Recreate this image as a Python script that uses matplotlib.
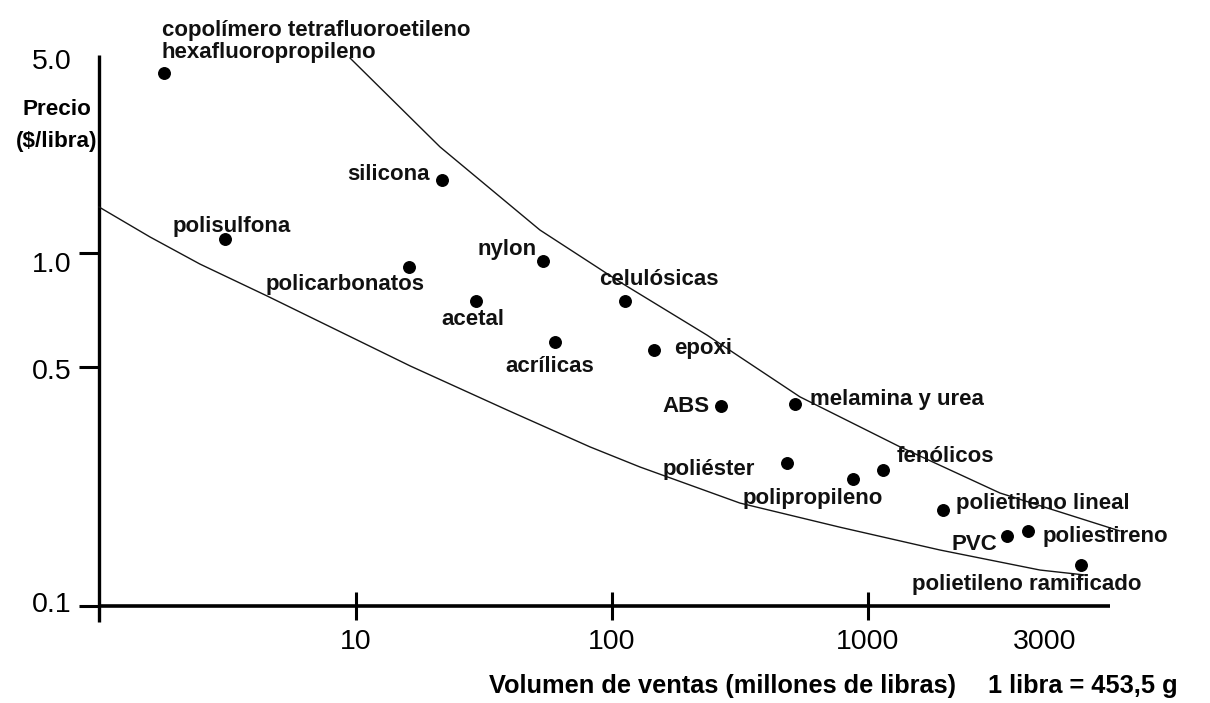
import numpy as np
import matplotlib
matplotlib.use("Agg")
import matplotlib.pyplot as plt
from matplotlib.transforms import ScaledTranslation

# ---------------- data ----------------
materials = ["copolímero tetrafluoroetileno\nhexafluoropropileno", "silicona", "polisulfona",
             "nylon", "policarbonatos", "acetal", "celulósicas", "acrílicas", "epoxi", "ABS",
             "melamina y urea", "poliéster", "fenólicos", "polipropileno", "polietileno lineal",
             "PVC", "poliestireno", "polietileno ramificado"]
volume = [1.79, 21.6, 3.09, 53.8, 16.1, 29.4, 112.4, 59.9, 145.9, 265.8,
          518.5, 481.4, 1100, 871, 1596, 2374, 2695, 3751]
price = [4.46, 1.833, 1.123, 0.952, 0.920, 0.748, 0.748, 0.582, 0.554, 0.385,
         0.390, 0.2625, 0.250, 0.2348, 0.191, 0.1602, 0.166, 0.1314]

upper_curve_x = [9.48, 21.3, 52.3, 107.5, 235, 542, 1220, 2269, 4778]
upper_curve_y = [5.04, 2.41, 1.21, 0.838, 0.607, 0.409, 0.292, 0.214, 0.1657]
lower_curve_x = [1.0, 1.58, 2.47, 4.51, 16.3, 38.9, 82.0, 128.6, 316, 777, 1563, 2908, 3845]
lower_curve_y = [1.465, 1.142, 0.935, 0.770, 0.503, 0.3744, 0.292, 0.255, 0.200, 0.170,
                 0.1458, 0.1274, 0.1232]

x_ticks = [10, 100, 1000, 3000]
x_tick_labels = ["10", "100", "1000", "3000"]
y_ticks = [0.1, 0.5, 1.0, 5.0]
y_tick_labels = ["0.1", "0.5", "1.0", "5.0"]

# label placement: (ha, dx px, dy px)
label_style = [("left", -2, 15), ("right", -12, 0), ("left", -52, 7), ("right", -6, 6),
               ("right", 16, -23), ("center", -3, -24), ("left", -26, 16), ("center", -5, -30),
               ("left", 20, -4), ("right", -11, -6), ("left", 15, -1), ("right", -32, -12),
               ("left", 13, 8), ("center", -40, -25), ("left", 13, 1), ("right", -10, -14),
               ("left", 15, -11), ("center", -54, -25)]

# ---------------- scale (hand-drawn, non-uniform log axis) ----------------
X_KNOT_LOG = [0.0, 1.0, 2.0, 3.0, np.log10(3000)]
X_KNOT_PX = [99, 356, 612, 868, 1045]
Y_KNOT_LOG = [-1.0, np.log10(0.5), 0.0, np.log10(5.0)]
Y_KNOT_PX = [97, 336, 450, 644]


def make_pw(kv, kp):
    kv = np.asarray(kv, float)
    kp = np.asarray(kp, float)

    def fwd(v):
        v = np.asarray(v, float)
        lv = np.log10(np.clip(v, 1e-12, None))
        out = np.interp(lv, kv, kp)
        out = np.where(lv < kv[0], kp[0] + (lv - kv[0]) * (kp[1] - kp[0]) / (kv[1] - kv[0]), out)
        out = np.where(lv > kv[-1], kp[-1] + (lv - kv[-1]) * (kp[-1] - kp[-2]) / (kv[-1] - kv[-2]), out)
        return out

    def inv(p):
        p = np.asarray(p, float)
        lv = np.interp(p, kp, kv)
        lv = np.where(p < kp[0], kv[0] + (p - kp[0]) * (kv[1] - kv[0]) / (kp[1] - kp[0]), lv)
        lv = np.where(p > kp[-1], kv[-1] + (p - kp[-1]) * (kv[-1] - kv[-2]) / (kp[-1] - kp[-2]), lv)
        return 10 ** lv

    return fwd, inv


fx, ix = make_pw(X_KNOT_LOG, X_KNOT_PX)
fy, iy = make_pw(Y_KNOT_LOG, Y_KNOT_PX)

W, H = 1210, 703
fig = plt.figure(figsize=(W / 100, H / 100), dpi=100)
fig.patch.set_facecolor("white")

ax_left, ax_right, ax_top, ax_bottom = 99, 1110, 55, 606
ax = fig.add_axes([ax_left / W, (H - ax_bottom) / H, (ax_right - ax_left) / W, (ax_bottom - ax_top) / H])
ax.set_xscale("function", functions=(fx, ix))
ax.set_yscale("function", functions=(fy, iy))
ax.set_xlim(float(ix(ax_left)), float(ix(ax_right)))
ax.set_ylim(float(iy(H - ax_bottom)), float(iy(H - ax_top)))

for s in ax.spines.values():
    s.set_visible(False)

ah = ax_bottom - ax_top
ax.plot([0, 0], [-(622 - 606) / ah, 1], transform=ax.transAxes, clip_on=False,
        color="black", lw=2.4, solid_capstyle="butt")
ax.plot([0, 1], [0, 0], transform=ax.transAxes, clip_on=False,
        color="black", lw=2.6, solid_capstyle="butt")

# curves
ax.plot(upper_curve_x, upper_curve_y, color="#151515", lw=1.0, clip_on=False)
ax.plot(lower_curve_x, lower_curve_y, color="#151515", lw=1.0, clip_on=False)

# points
ax.plot(volume, price, "o", color="black", ms=8.3, zorder=5, clip_on=False)

ann_font = dict(family=["Liberation Sans", "DejaVu Sans"], weight="bold", size=16)
for name, xv, yv, (ha, dx, dy) in zip(materials, volume, price, label_style):
    ax.annotate(name, xy=(xv, yv), xytext=(dx, dy), textcoords="offset pixels",
                ha=ha, va="baseline", linespacing=1.02, color="#111111", **ann_font)

# ticks
tick_font = dict(family=["Liberation Sans", "DejaVu Sans"], size=20.5)
ax.set_xticks(x_ticks, labels=x_tick_labels, **tick_font)
ax.set_yticks(y_ticks, labels=y_tick_labels, **tick_font)
ax.minorticks_off()
ax.tick_params(axis="x", direction="inout", length=20.5, width=2.2, pad=6.5, color="black")
ax.tick_params(axis="y", direction="out", length=14.4, width=2.2, pad=5.5, color="black")
ax.xaxis.get_major_ticks()[3].tick1line.set_visible(False)
ax.yaxis.get_major_ticks()[3].tick1line.set_visible(False)

y_label_shift_px = [4, -2, -9, 0]
for lab, sh in zip(ax.get_yticklabels(), y_label_shift_px):
    lab.set_transform(lab.get_transform() + ScaledTranslation(0, sh / 100, fig.dpi_scale_trans))

# axis titles
title_font = dict(family=["Liberation Sans", "DejaVu Sans"], weight="bold")
fig.text(489 / W, 1 - 693 / H, "Volumen de ventas (millones de libras)", ha="left",
         va="baseline", size=18.3, **title_font)
fig.text(988 / W, 1 - 693 / H, "1 libra = 453,5 g", ha="left", va="baseline", size=18.3, **title_font)
fig.text(57 / W, 1 - 115 / H, "Precio", ha="center", va="baseline", size=16.2, **title_font)
fig.text(57 / W, 1 - 147 / H, "($/libra)", ha="center", va="baseline", size=16.2, **title_font)

fig.savefig("out.png", dpi=100, facecolor="white")
